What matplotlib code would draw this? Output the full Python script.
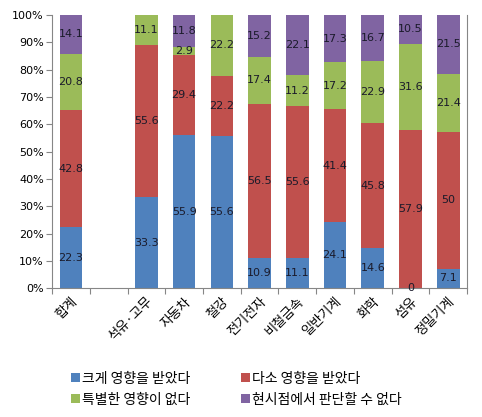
import matplotlib
matplotlib.use("Agg")
import matplotlib.pyplot as plt
import numpy as np

plt.rcParams['font.family'] = ['Noto Sans CJK KR', 'DejaVu Sans']

categories = ['합계', '', '석유·고무', '자동차', '철강', '전기전자', '비철금속', '일반기계', '화학', '섬유', '정밀기계']
series_names = ['크게 영향을 받았다', '다소 영향을 받았다', '특별한 영향이 없다', '현시점에서 판단할 수 없다']
nan = np.nan
s1 = [22.3, nan, 33.3, 55.9, 55.6, 10.9, 11.1, 24.1, 14.6, 0, 7.1]
s2 = [42.8, nan, 55.6, 29.4, 22.2, 56.5, 55.6, 41.4, 45.8, 57.9, 50]
s3 = [20.8, nan, 11.1, 2.9, 22.2, 17.4, 11.2, 17.2, 22.9, 31.6, 21.4]
s4 = [14.1, nan, nan, 11.8, nan, 15.2, 22.1, 17.3, 16.7, 10.5, 21.5]
colors = ['#4F81BD', '#C0504D', '#9BBB59', '#8064A2']

fig = plt.figure(figsize=(4.82, 4.17), dpi=100)
ax = fig.add_axes([0.108, 0.309, 0.861, 0.655])

x = np.arange(len(categories))
bottom = np.zeros(len(categories))
for vals, c, name in zip([s1, s2, s3, s4], colors, series_names):
    v = np.array(vals, dtype=float)
    vz = np.nan_to_num(v)
    ax.bar(x, vz, bottom=bottom, width=0.6, color=c, label=name, linewidth=0)
    for xi, val, b in zip(x, v, bottom):
        if not np.isnan(val):
            ax.text(xi, b + val / 2, f'{val:g}', ha='center', va='center',
                    fontsize=8, color='#1a1a2a', family='DejaVu Sans')
    bottom += vz

ax.set_xlim(-0.5, len(categories) - 0.5)
ax.set_ylim(0, 100)
ax.set_yticks(np.arange(0, 101, 10))
ax.set_yticklabels([f'{t}%' for t in range(0, 101, 10)], fontsize=8, family='DejaVu Sans')
ax.set_xticks(np.arange(-0.5, len(categories), 1))
ax.set_xticklabels([])
ax.set_xticks(x, minor=True)
ax.set_xticklabels(categories, minor=True, rotation=45, ha='right', va='top',
                   rotation_mode='anchor', fontsize=9.5)
ax.tick_params(axis='x', which='minor', length=0, pad=5)
ax.tick_params(axis='x', which='major', length=4, color='#868686', direction='out')
ax.tick_params(axis='y', length=4, color='#868686', direction='out', pad=2)

ax.spines['top'].set_visible(False)
for s in ['left', 'bottom', 'right']:
    ax.spines[s].set_color('#868686')
    ax.spines[s].set_linewidth(0.8)

handles, labels = ax.get_legend_handles_labels()
order = [0, 2, 1, 3]
fig.legend([handles[i] for i in order], [labels[i] for i in order],
           loc='lower left', bbox_to_anchor=(0.122, -0.005), ncol=2,
           frameon=False, fontsize=10, handlelength=0.6, handleheight=0.6,
           handletextpad=0.2, columnspacing=3.65, labelspacing=0.5)

fig.savefig('out.png', dpi=100)
